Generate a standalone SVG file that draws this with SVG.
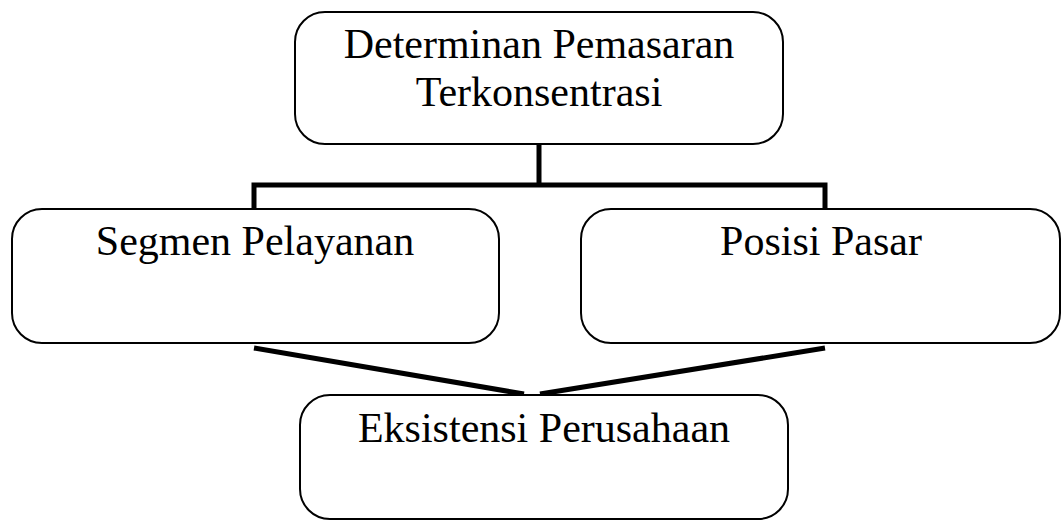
<svg xmlns="http://www.w3.org/2000/svg" width="1062" height="521" viewBox="0 0 1062 521">
<style>
.box{fill:#fff;stroke:#000;stroke-width:2}
.lbl{font-family:"Liberation Serif","Times New Roman",serif;font-size:42px;fill:#000;text-anchor:middle}
.con{stroke:#000;stroke-width:5;fill:none}
</style>
<rect width="1062" height="521" fill="#fff"/>
<g id="connectors">
<polyline class="con" points="539,144 539,185"/>
<polyline class="con" points="254,209 254,185 825,185 825,209"/>
<line class="con" x1="254" y1="348" x2="524" y2="394"/>
<line class="con" x1="825" y1="348" x2="540" y2="394"/>
</g>
<g id="node-top">
<rect class="box" x="295" y="12" width="488" height="132" rx="30"/>
<text class="lbl" x="539" y="58">Determinan Pemasaran</text>
<text class="lbl" x="539" y="106">Terkonsentrasi</text>
</g>
<g id="node-segmen">
<rect class="box" x="12" y="209" width="487" height="134" rx="30"/>
<text class="lbl" x="255" y="255">Segmen Pelayanan</text>
</g>
<g id="node-posisi">
<rect class="box" x="581" y="209" width="479" height="134" rx="30"/>
<text class="lbl" x="821" y="255">Posisi Pasar</text>
</g>
<g id="node-eksistensi">
<rect class="box" x="300" y="395" width="488" height="124" rx="30"/>
<text class="lbl" x="544" y="442">Eksistensi Perusahaan</text>
</g>
</svg>
